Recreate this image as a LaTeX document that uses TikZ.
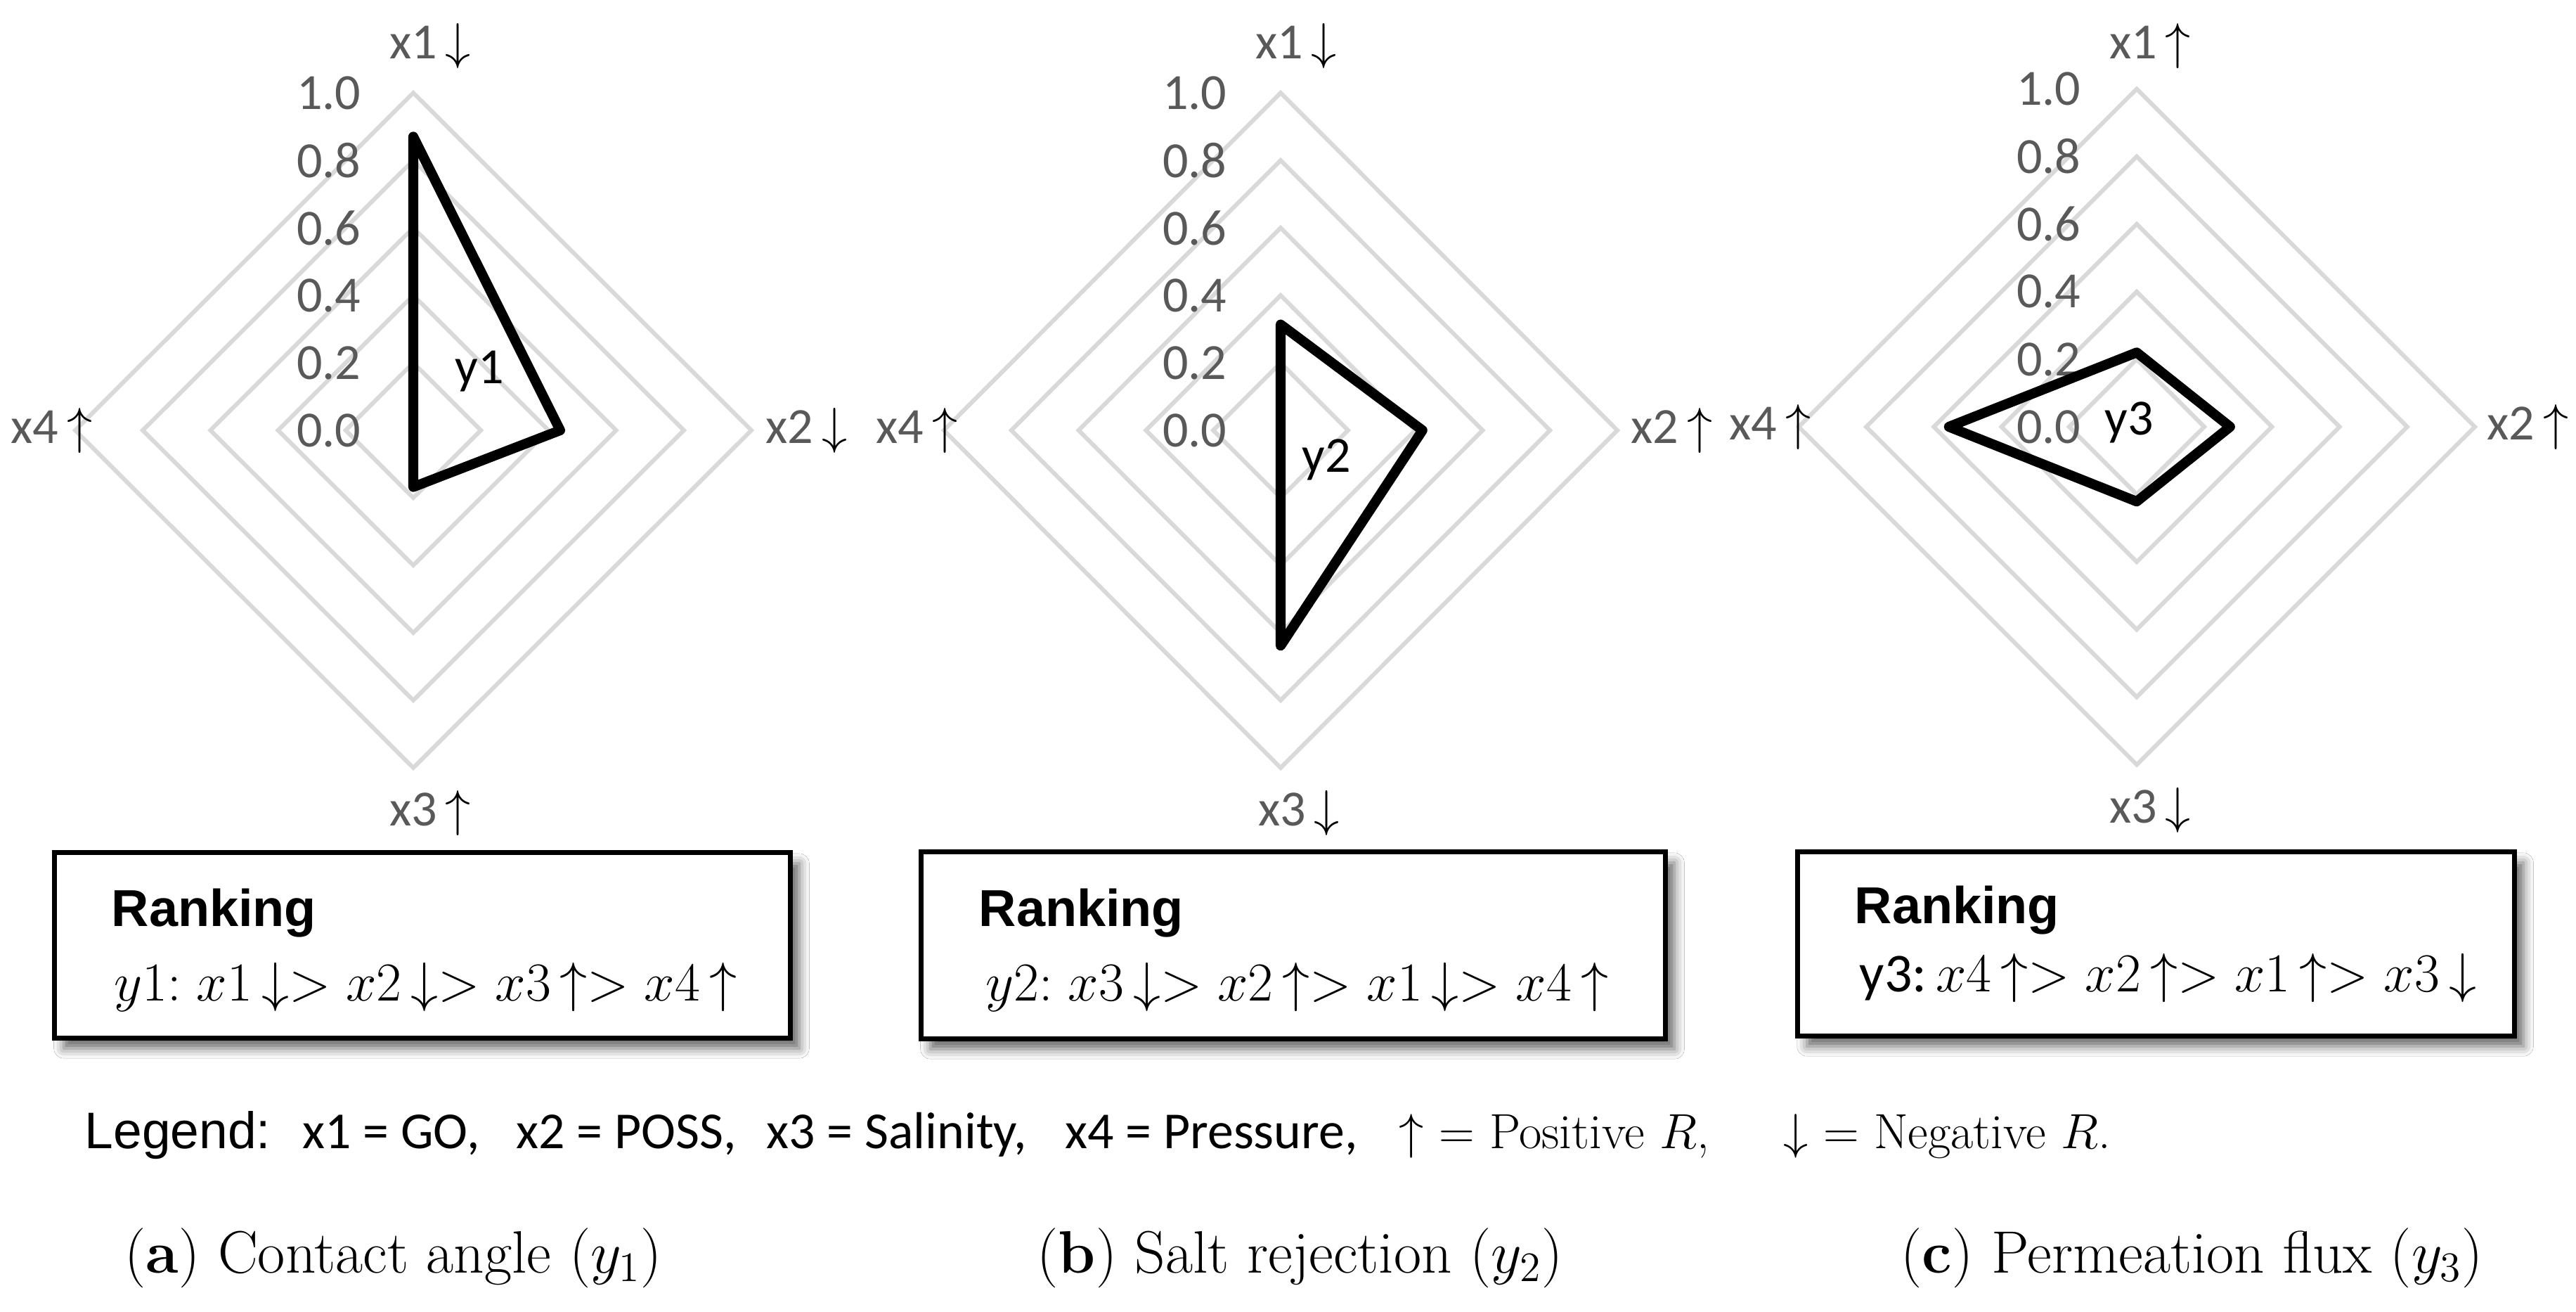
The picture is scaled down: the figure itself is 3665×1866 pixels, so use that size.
\documentclass[tikz,border=0pt]{standalone}
\usepackage{fix-cm}
\usepackage{fontspec}
\usetikzlibrary{shadows.blur}
\newfontfamily\carl{Carlito}
\newfontfamily\arialf{Liberation Sans}
\definecolor{ringgray}{HTML}{D9D9D9}
\definecolor{labgray}{HTML}{595959}
\newcommand\fsz[1]{\fontsize{#1}{#1}\selectfont}
\newcommand\dn{\,\textcolor{black}{$\downarrow$}}
\newcommand\up{\,\textcolor{black}{$\uparrow$}}
\tikzset{
  ring/.style={draw=ringgray, line width=1.7pt},
  datapoly/.style={draw=black, line width=4pt, line join=round},
  scalelab/.style={font=\carl\fsz{20.5}, text=labgray, anchor=east, inner sep=0pt},
  axlab/.style={font=\carl\fsz{20.5}, text=labgray, inner sep=0pt},
  serieslab/.style={font=\carl\fsz{20.5}, text=black, inner sep=0pt},
  rankbox/.style={draw=black, line width=2pt, fill=white, inner sep=0pt,
    blur shadow={shadow xshift=0.13cm, shadow yshift=-0.15cm, shadow blur radius=0.14cm, shadow opacity=60}},
  ranktitle/.style={font=\arialf\bfseries\fsz{21}, anchor=base west, inner sep=0pt},
  rankline/.style={font=\fsz{22.2}, anchor=base west, inner sep=0pt},
  legsans/.style={font=\arialf\fsz{20.8}, anchor=base west, inner sep=0pt},
  legcal/.style={font=\carl\fsz{21}, anchor=base west, inner sep=0pt},
  legser/.style={font=\fsz{20}, anchor=base west, inner sep=0pt},
  capt/.style={font=\fsz{24.2}, anchor=base west, inner sep=0pt},
}
\begin{document}
\begin{tikzpicture}[x=0.01cm,y=-0.01cm]
\useasboundingbox (0,0) rectangle (3665,1866);
\fill[white] (0,0) rectangle (3665,1866);

% ---------- panel (a) ----------
\foreach \k in {1,...,5}
  \draw[ring] (588,{612-\k*96}) -- ({588+\k*96.2},612) -- (588,{612+\k*96}) -- ({588-\k*96.2},612) -- cycle;
\foreach \k/\t in {0/0.0,1/0.2,2/0.4,3/0.6,4/0.8,5/1.0}
  \node[scalelab] (a-s\k) at (514,{612-\k*96}) {\t};
\node[axlab] (a-x1) at (612,65) {x1\dn};
\node[axlab, anchor=west] (a-x2) at (1089,612) {x2\dn};
\node[axlab] (a-x3) at (612,1156) {x3\up};
\node[axlab, anchor=east] (a-x4) at (132,612) {x4\up};
\coordinate (a-p1) at (588,194.4);
\coordinate (a-p2) at (797,612);
\coordinate (a-p3) at (588,692.6);
\coordinate (a-p4) at (588,612);
\draw[datapoly] (a-p1) -- (a-p2) -- (a-p3) -- (a-p4) -- cycle;
\node[serieslab] (a-y) at (682,528) {y1};

% ---------- panel (b) ----------
\foreach \k in {1,...,5}
  \draw[ring] (1822,{612-\k*96}) -- ({1822+\k*95.8},612) -- (1822,{612+\k*96}) -- ({1822-\k*95.8},612) -- cycle;
\foreach \k/\t in {0/0.0,1/0.2,2/0.4,3/0.6,4/0.8,5/1.0}
  \node[scalelab] (b-s\k) at (1746,{612-\k*96}) {\t};
\node[axlab] (b-x1) at (1844,65) {x1\dn};
\node[axlab, anchor=west] (b-x2) at (2320,612) {x2\up};
\node[axlab] (b-x3) at (1848,1156) {x3\dn};
\node[axlab, anchor=east] (b-x4) at (1363,612) {x4\up};
\coordinate (b-p1) at (1822,461.5);
\coordinate (b-p2) at (2023.8,612);
\coordinate (b-p3) at (1822,918.4);
\coordinate (b-p4) at (1822,612);
\draw[datapoly] (b-p1) -- (b-p2) -- (b-p3) -- (b-p4) -- cycle;
\node[serieslab] (b-y) at (1887,654) {y2};

% ---------- panel (c) ----------
\foreach \k in {1,...,5}
  \draw[ring] (3040,{607-\k*96.1}) -- ({3040+\k*96.2},607) -- (3040,{607+\k*96.1}) -- ({3040-\k*96.2},607) -- cycle;
\foreach \k/\t in {0/0.0,1/0.2,2/0.4,3/0.6,4/0.8,5/1.0}
  \node[scalelab] (c-s\k) at (2961,{607-\k*96.1}) {\t};
\node[axlab] (c-x1) at (3059,65) {x1\up};
\node[axlab, anchor=west] (c-x2) at (3538,607) {x2\up};
\node[axlab] (c-x3) at (3059,1152) {x3\dn};
\node[axlab, anchor=east] (c-x4) at (2577,607) {x4\up};
\coordinate (c-p1) at (3040,501.3);
\coordinate (c-p2) at (3172.9,607);
\coordinate (c-p3) at (3040,713.3);
\coordinate (c-p4) at (2772.7,607);
\draw[datapoly] (c-p1) -- (c-p2) -- (c-p3) -- (c-p4) -- cycle;
\node[serieslab] (c-y) at (3029,601) {y3};

% ---------- ranking boxes ----------
\node[rankbox, minimum width=10.46cm, minimum height=2.63cm] (boxa) at (601,1344.5) {};
\node[rankbox, minimum width=10.58cm, minimum height=2.65cm] (boxb) at (1840,1344.5) {};
\node[rankbox, minimum width=10.19cm, minimum height=2.61cm] (boxc) at (3067.5,1342.5) {};

\node[ranktitle] (ta) at (158,1317) {Ranking};
\node[ranktitle] (tb) at (1392,1317) {Ranking};
\node[ranktitle] (tc) at (2638,1313) {Ranking};

\node[rankline] (ra) at (162,1423) {$y1{:}\;x1\,{\downarrow}{>}\;x2\,{\downarrow}{>}\;x3\,{\uparrow}{>}\;x4\,{\uparrow}$};
\node[rankline] (rb) at (1402,1423) {$y2{:}\;x3\,{\downarrow}{>}\;x2\,{\uparrow}{>}\;x1\,{\downarrow}{>}\;x4\,{\uparrow}$};
\node[rankline] (rc) at (2645,1410) {{\carl y3:}$\,x4\,{\uparrow}{>}\;x2\,{\uparrow}{>}\;x1\,{\uparrow}{>}\;x3\,{\downarrow}$};

% ---------- legend ----------
\node[legsans] (lg0) at (120,1633) {Legend:};
\node[legcal] (lg1) at (430,1633) {x1 = GO,};
\node[legcal] (lg2) at (734,1633) {x2 = POSS,};
\node[legcal] (lg3) at (1090,1633) {x3 = Salinity,};
\node[legcal] (lg4) at (1515,1633) {x4 = Pressure,};
\node[legser] (lg5) at (1990,1633) {$\uparrow$ = Positive $R$,};
\node[legser] (lg6) at (2537,1633) {$\downarrow$ = Negative $R$.};

% ---------- captions ----------
\node[capt] (cap-a) at (177,1810) {(\textbf{a}) Contact angle ($y_{1}$)};
\node[capt] (cap-b) at (1475,1810) {(\textbf{b}) Salt rejection ($y_{2}$)};
\node[capt] (cap-c) at (2704,1810) {(\textbf{c}) Permeation flux ($y_{3}$)};
\end{tikzpicture}
\end{document}
